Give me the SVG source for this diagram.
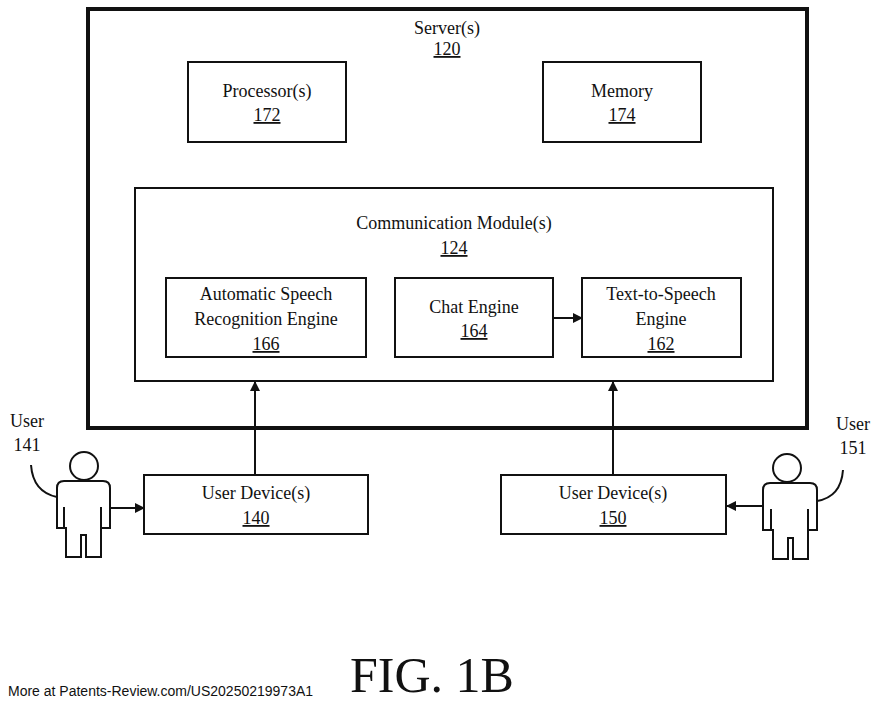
<svg xmlns="http://www.w3.org/2000/svg" width="880" height="707" viewBox="0 0 880 707">
<style>
text{font-family:"Liberation Serif",serif;font-size:18px;fill:#111;text-anchor:middle}
.b{fill:#fff;stroke:#111;stroke-width:2}
.l{fill:none;stroke:#111;stroke-width:2}
.u{text-decoration:underline}
</style>
<defs><marker id="a" markerWidth="10" markerHeight="10" refX="9" refY="5" orient="auto" markerUnits="userSpaceOnUse"><path d="M0,0L10,5L0,10Z" fill="#111"/></marker></defs>
<rect width="880" height="707" fill="#fff"/>
<g id="server"><rect x="88" y="9" width="719" height="419" fill="#fff" stroke="#111" stroke-width="4"/><text x="447" y="34">Server(s)</text><text x="447" y="55" class="u">120</text></g>
<g id="proc"><rect class="b" x="188" y="62" width="158" height="80"/><text x="267" y="97">Processor(s)</text><text x="267" y="121" class="u">172</text></g>
<g id="mem"><rect class="b" x="543" y="62" width="158" height="80"/><text x="622" y="97">Memory</text><text x="622" y="121" class="u">174</text></g>
<g id="comm"><rect class="b" x="135" y="188" width="638" height="193"/><text x="454" y="229">Communication Module(s)</text><text x="454" y="254" class="u">124</text></g>
<g id="asr"><rect class="b" x="166" y="278" width="200" height="79"/><text x="266" y="300">Automatic Speech</text><text x="266" y="325">Recognition Engine</text><text x="266" y="350" class="u">166</text></g>
<g id="chat"><rect class="b" x="395" y="278" width="158" height="79"/><text x="474" y="313">Chat Engine</text><text x="474" y="337" class="u">164</text></g>
<g id="tts"><rect class="b" x="582" y="278" width="159" height="79"/><text x="661" y="300">Text-to-Speech</text><text x="661" y="325">Engine</text><text x="661" y="350" class="u">162</text></g>
<g id="dev140"><rect class="b" x="144" y="475" width="224" height="59"/><text x="256" y="499">User Device(s)</text><text x="256" y="524" class="u">140</text></g>
<g id="dev150"><rect class="b" x="501" y="475" width="225" height="59"/><text x="613" y="499">User Device(s)</text><text x="613" y="524" class="u">150</text></g>
<g id="user141"><text x="27" y="427">User</text><text x="27" y="451">141</text>
<circle class="l" cx="84" cy="466" r="14"/>
<path class="l" d="M57,528V488Q57,481 64,481H103Q110,481 110,488V528H101V557H86V535H81V557H66V528H57Z M64,507V528 M101,507V528"/>
<path class="l" d="M31,465Q33,492 57,497"/></g>
<g id="user151"><text x="853" y="430">User</text><text x="853" y="454">151</text>
<circle class="l" cx="787" cy="468" r="14"/>
<path class="l" d="M763,530V490Q763,483 770,483H810Q817,483 817,490V530H808V559H793V538H788V559H773V530H763Z M771,509V530 M808,509V530"/>
<path class="l" d="M843,470Q841,497 817,501"/></g>
<g id="connectors">
<path class="l" d="M110,508H144" marker-end="url(#a)"/>
<path class="l" d="M763,506H727" marker-end="url(#a)"/>
<path class="l" d="M255,475V382" marker-end="url(#a)"/>
<path class="l" d="M613,475V382" marker-end="url(#a)"/>
<path class="l" d="M553,318H582" marker-end="url(#a)"/>
</g>
<text x="432" y="692" style="font-size:50px">FIG. 1B</text>
<text x="8" y="696" style="font-family:'Liberation Sans',sans-serif;font-size:14px;text-anchor:start">More at Patents-Review.com/US20250219973A1</text>
</svg>
